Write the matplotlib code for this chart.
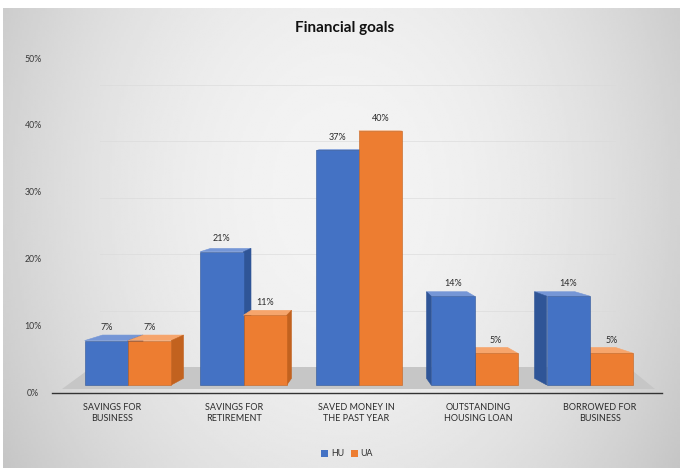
import numpy as np
import matplotlib.pyplot as plt
from matplotlib.patches import Polygon, Rectangle, Patch

plt.rcParams['font.family'] = ['Lato', 'DejaVu Sans']

categories = ["SAVINGS FOR\nBUSINESS", "SAVINGS FOR\nRETIREMENT",
              "SAVED MONEY IN\nTHE PAST YEAR", "OUTSTANDING\nHOUSING LOAN",
              "BORROWED FOR\nBUSINESS"]
series_names = ["HU", "UA"]
hu = [7, 21, 37, 14, 14]
ua = [7, 11, 40, 5, 5]
yticks = [0, 10, 20, 30, 40, 50]

# front, top, side face colours
HU_COLORS = ("#4472c4", "#7596d6", "#2f5597")
UA_COLORS = ("#ed7d31", "#f6a56c", "#c2621f")
TEXT = "#2b2b2b"

# layout: canvas pixels -> data units (categories on x, percent on y)
W, H = 680, 468
X_ORIGIN, Y_ORIGIN = 128, 393
PX_X = 115.5
PX_Y = 6.68


def px_x(p):
    return (p - X_ORIGIN) / PX_X


def px_y(p):
    return (Y_ORIGIN - p) / PX_Y


# simple perspective for the 3D columns
BASE = 1.2      # front edge of the floor above the axis line
SCALE = 0.95    # front plane is slightly smaller than the axis scale
VX, VY = 2.0, 40.9
KX, KY = 0.065, 0.025
BAR_W = 0.375


def depth(x, y):
    return KX * (VX - x), KY * (VY - y)


def draw_bar(ax, x0, x1, value, colors, z):
    front, top, side = colors
    y0 = BASE
    y1 = BASE + SCALE * value
    ex0, ey1 = depth(x0, y1)
    ex1, _ = depth(x1, y1)
    _, ey0 = depth(x0, y0)
    ax.add_patch(Polygon([(x0, y1), (x1, y1), (x1 + ex1, y1 + ey1), (x0 + ex0, y1 + ey1)],
                         closed=True, facecolor=top, edgecolor=top, lw=0.4, zorder=z))
    if x1 < VX:
        ax.add_patch(Polygon([(x1, y0), (x1, y1), (x1 + ex1, y1 + ey1), (x1 + ex1, y0 + ey0)],
                             closed=True, facecolor=side, edgecolor=side, lw=0.4, zorder=z))
    if x0 > VX:
        ax.add_patch(Polygon([(x0, y0), (x0, y1), (x0 + ex0, y1 + ey1), (x0 + ex0, y0 + ey0)],
                             closed=True, facecolor=side, edgecolor=side, lw=0.4, zorder=z))
    ax.add_patch(Rectangle((x0, y0), x1 - x0, y1 - y0, facecolor=front,
                           edgecolor=side, lw=0.4, zorder=z + 0.5))
    ax.text((x0 + x1) / 2, y1 + 13 / PX_Y, f"{value}%", ha='center', va='center',
            fontsize=6.5, color=TEXT, zorder=20)


fig = plt.figure(figsize=(W / 100, H / 100), dpi=100)
ax = fig.add_axes([0, 0, 1, 1])
ax.set_xlim(px_x(0), px_x(W))
ax.set_ylim(px_y(H), px_y(0))
ax.axis('off')

# grey radial background of the chart area
gy, gx = np.mgrid[0:1:200j, 0:1:300j]
r2 = ((gx - 0.5) / 0.5) ** 2 + 0.4 * ((gy - 0.4) / 0.6) ** 2
bg = 0.955 - 0.13 * r2
ax.imshow(bg, cmap='gray', vmin=0, vmax=1, aspect='auto', interpolation='bilinear',
          extent=(px_x(3), px_x(W), px_y(H), px_y(8)), zorder=0)

# faint gridlines on the back wall
for t in yticks[1:]:
    yb = px_y(367 - 5.64 * t)
    ax.plot([px_x(100), px_x(615)], [yb, yb], color="#d9d9d9", lw=0.7, alpha=0.6, zorder=1)

# floor
ax.add_patch(Polygon([(px_x(62), px_y(389)), (px_x(655), px_y(389)),
                      (px_x(628), px_y(367)), (px_x(92), px_y(367))],
                     closed=True, facecolor="#c6c6c6", edgecolor="none", zorder=1))
ax.plot([px_x(52), px_x(662)], [0, 0], color="#333333", lw=1.0, zorder=2)

# columns, drawn so the inner side faces are hidden behind the neighbour
for i, (h, u) in enumerate(zip(hu, ua)):
    bars = [(i - BAR_W, i, h, HU_COLORS), (i, i + BAR_W, u, UA_COLORS)]
    if i > VX:
        bars = bars[::-1]
    for k, (x0, x1, v, c) in enumerate(bars):
        draw_bar(ax, x0, x1, v, c, 5 + k)

# value axis labels
for t in yticks:
    ax.text(px_x(33), t, f"{t}%", ha='center', va='center', fontsize=6.3, color="#3a3a3a")

# category labels spread a little wider than the columns (front edge of floor)
for i, name in enumerate(categories):
    lx = 1.055 * (i - VX) + VX - 3 / PX_X
    ax.text(lx, px_y(403), name, ha='center', va='top', fontsize=6.5,
            color=TEXT, linespacing=1.35)

ax.text(px_x(345), px_y(28), "Financial goals", ha='center', va='center',
        fontsize=11, fontweight='bold', color="#111111")

handles = [Patch(facecolor=HU_COLORS[0]), Patch(facecolor=UA_COLORS[0])]
fig.legend(handles, series_names, loc='center', bbox_to_anchor=(347 / W, 1 - 454 / H),
           ncol=2, frameon=False, fontsize=6.3, handlelength=0.8, handleheight=0.8,
           handletextpad=0.3, columnspacing=0.8, labelcolor=TEXT)

fig.savefig("out.png", dpi=100)
